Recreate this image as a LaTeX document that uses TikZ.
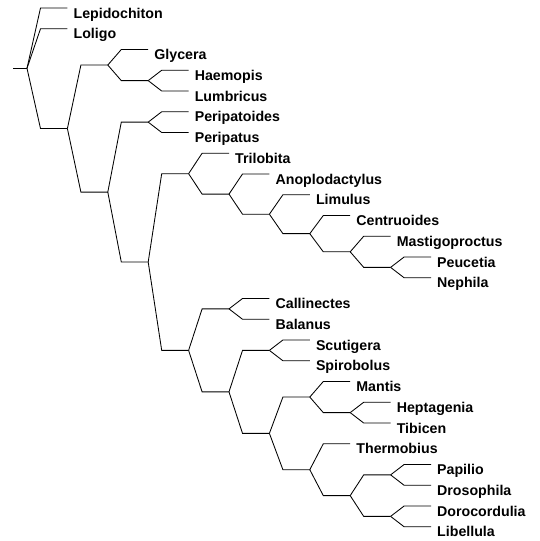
\documentclass[tikz,border=0pt]{standalone}
\usepackage{fontspec}
\setmainfont{Liberation Sans}
\usetikzlibrary{calc}
\newfontfamily\taxfont{Liberation Sans}[BoldFont={* Bold}]
\tikzset{
  br/.style={line width=0.85pt, black},
  lab/.style={font=\taxfont\bfseries\fontsize{14.2}{16}\selectfont, anchor=base west, inner sep=0pt, shift={(6pt,-10pt)}},
}
\newcommand\twig[2]{\draw[br] (#1) -- ($(#1 |- #2)+(13.5,0)$) -- (#2);}
\begin{document}
\begin{tikzpicture}[x=1pt,y=1pt]
\useasboundingbox (0,0) rectangle (539,-541);
% internal nodes
\coordinate (S) at (13,-68.29);
\coordinate (R) at (27,-68.29);
\coordinate (A) at (67.4,-128.57);
\coordinate (G) at (107.8,-65.06);
\coordinate (H) at (148.2,-80.625);
\coordinate (B) at (107.8,-192.08);
\coordinate (P) at (148.2,-122.125);
\coordinate (C) at (148.2,-262.03);
\coordinate (T) at (188.6,-173.68);
\coordinate (An) at (229,-194.1);
\coordinate (L) at (269.4,-214.2);
\coordinate (Ce) at (309.8,-233.66);
\coordinate (M) at (350.2,-251.81);
\coordinate (Pe) at (390.6,-267.375);
\coordinate (D) at (188.6,-350.375);
\coordinate (Cal) at (229,-308.875);
\coordinate (E) at (229,-391.875);
\coordinate (Sc) at (269.4,-350.375);
\coordinate (F) at (269.4,-433.375);
\coordinate (Ma) at (309.8,-397.06);
\coordinate (Hp) at (350.2,-412.625);
\coordinate (Th) at (309.8,-469.69);
\coordinate (Pa) at (350.2,-495.625);
\coordinate (Pap) at (390.6,-474.875);
\coordinate (Do) at (390.6,-516.375);
% leaf ends
\coordinate (l0) at (67.4,-8);
\coordinate (l1) at (67.4,-28.75);
\coordinate (l2) at (148.2,-49.5);
\coordinate (l3) at (188.6,-70.25);
\coordinate (l4) at (188.6,-91);
\coordinate (l5) at (188.6,-111.75);
\coordinate (l6) at (188.6,-132.5);
\coordinate (l7) at (229,-153.25);
\coordinate (l8) at (269.4,-174);
\coordinate (l9) at (309.8,-194.75);
\coordinate (l10) at (350.2,-215.5);
\coordinate (l11) at (390.6,-236.25);
\coordinate (l12) at (431,-257);
\coordinate (l13) at (431,-277.75);
\coordinate (l14) at (269.4,-298.5);
\coordinate (l15) at (269.4,-319.25);
\coordinate (l16) at (309.8,-340);
\coordinate (l17) at (309.8,-360.75);
\coordinate (l18) at (350.2,-381.5);
\coordinate (l19) at (390.6,-402.25);
\coordinate (l20) at (390.6,-423);
\coordinate (l21) at (350.2,-443.75);
\coordinate (l22) at (431,-464.5);
\coordinate (l23) at (431,-485.25);
\coordinate (l24) at (431,-506);
\coordinate (l25) at (431,-526.75);
% labels
\node[lab] (t0) at (l0) {Lepidochiton};
\node[lab] (t1) at (l1) {Loligo};
\node[lab] (t2) at (l2) {Glycera};
\node[lab] (t3) at (l3) {Haemopis};
\node[lab] (t4) at (l4) {Lumbricus};
\node[lab] (t5) at (l5) {Peripatoides};
\node[lab] (t6) at (l6) {Peripatus};
\node[lab] (t7) at (l7) {Trilobita};
\node[lab] (t8) at (l8) {Anoplodactylus};
\node[lab] (t9) at (l9) {Limulus};
\node[lab] (t10) at (l10) {Centruoides};
\node[lab] (t11) at (l11) {Mastigoproctus};
\node[lab] (t12) at (l12) {Peucetia};
\node[lab] (t13) at (l13) {Nephila};
\node[lab] (t14) at (l14) {Callinectes};
\node[lab] (t15) at (l15) {Balanus};
\node[lab] (t16) at (l16) {Scutigera};
\node[lab] (t17) at (l17) {Spirobolus};
\node[lab] (t18) at (l18) {Mantis};
\node[lab] (t19) at (l19) {Heptagenia};
\node[lab] (t20) at (l20) {Tibicen};
\node[lab] (t21) at (l21) {Thermobius};
\node[lab] (t22) at (l22) {Papilio};
\node[lab] (t23) at (l23) {Drosophila};
\node[lab] (t24) at (l24) {Dorocordulia};
\node[lab] (t25) at (l25) {Libellula};
% branches
\draw[br] (S) -- (R);
\twig{R}{l0} \twig{R}{l1} \twig{R}{A}
\twig{A}{G} \twig{A}{B}
\twig{G}{l2} \twig{G}{H}
\twig{H}{l3} \twig{H}{l4}
\twig{B}{P} \twig{B}{C}
\twig{P}{l5} \twig{P}{l6}
\twig{C}{T} \twig{C}{D}
\twig{T}{l7} \twig{T}{An}
\twig{An}{l8} \twig{An}{L}
\twig{L}{l9} \twig{L}{Ce}
\twig{Ce}{l10} \twig{Ce}{M}
\twig{M}{l11} \twig{M}{Pe}
\twig{Pe}{l12} \twig{Pe}{l13}
\twig{D}{Cal} \twig{D}{E}
\twig{Cal}{l14} \twig{Cal}{l15}
\twig{E}{Sc} \twig{E}{F}
\twig{Sc}{l16} \twig{Sc}{l17}
\twig{F}{Ma} \twig{F}{Th}
\twig{Ma}{l18} \twig{Ma}{Hp}
\twig{Hp}{l19} \twig{Hp}{l20}
\twig{Th}{l21} \twig{Th}{Pa}
\twig{Pa}{Pap} \twig{Pa}{Do}
\twig{Pap}{l22} \twig{Pap}{l23}
\twig{Do}{l24} \twig{Do}{l25}
\end{tikzpicture}
\end{document}
